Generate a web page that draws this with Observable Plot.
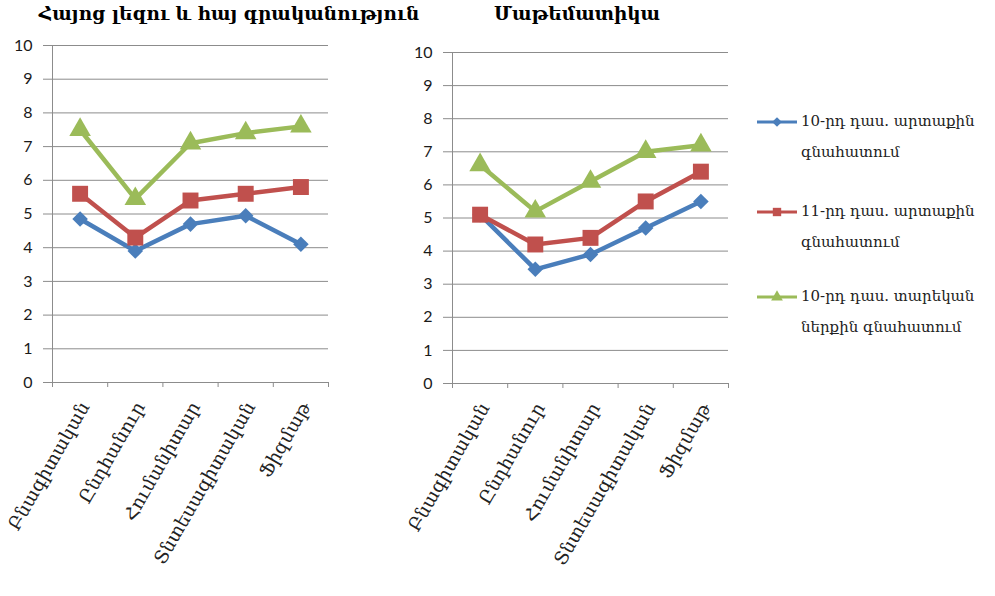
<!DOCTYPE html>
<html>
<head>
<meta charset="utf-8">
<script src="https://cdn.jsdelivr.net/npm/d3@7"></script>
<script src="https://cdn.jsdelivr.net/npm/@observablehq/plot@0.6"></script>
<style>
  body { margin: 0; background: #fff; }
  #wrap { position: relative; width: 995px; height: 596px; overflow: hidden; background: #fff; }
  .panel { position: absolute; top: 0; }
  .title { position: absolute; top: 3px; font-family: "DejaVu Serif", serif; font-weight: bold;
           font-size: 18.5px; white-space: nowrap; transform: translateX(-50%); color: #000; }
  .legend-item { position: absolute; left: 756px; display: flex; align-items: flex-start; }
  .legend-item svg { flex: none; margin-top: 4px; }
  .legend-item span { font-family: "DejaVu Serif", serif; font-size: 15px; line-height: 31px;
                      color: #222; margin-left: 3px; width: 200px; }
</style>
</head>
<body>
<div id="wrap"></div>
<script>
// Track categories (x axis)
const categories = ["Բնագիտական", "Ընդհանուր", "Հումանիտար", "Տնտեսագիտական", "Ֆիզմաթ"];

// Series
const seriesNames = [
  "10-րդ դաս. արտաքին գնահատում",
  "11-րդ դաս. արտաքին գնահատում",
  "10-րդ դաս. տարեկան ներքին գնահատում"
];
const seriesColors = ["#4a7ebb", "#c0504d", "#9bbb59"];
const seriesSymbols = ["diamond2", "square", "triangle"];
const seriesRadius = [7, 9, 8];

// Armenian language and literature
const armenianTitle = "Հայոց լեզու և հայ գրականություն";
const armenianExt10 = [4.85, 3.9, 4.7, 4.95, 4.1];
const armenianExt11 = [5.6, 4.3, 5.4, 5.6, 5.8];
const armenianInt10 = [7.5, 5.45, 7.1, 7.4, 7.6];

// Mathematics
const mathTitle = "Մաթեմատիկա";
const mathExt10 = [5.1, 3.45, 3.9, 4.7, 5.5];
const mathExt11 = [5.1, 4.2, 4.4, 5.5, 6.4];
const mathInt10 = [6.6, 5.2, 6.1, 7.0, 7.2];

const yTicks = [0, 1, 2, 3, 4, 5, 6, 7, 8, 9, 10];

const gridColor = "#8c8c8c";
const labelFont = "Lato, 'Open Sans', sans-serif";
const armFont = "'DejaVu Serif', serif";

function rowsFor(seriesValues) {
  const rows = [];
  seriesValues.forEach((vals, s) => {
    vals.forEach((v, i) => rows.push({series: seriesNames[s], i, value: v}));
  });
  return rows;
}

function panel(seriesValues, marginTop, marginBottom) {
  const rows = rowsFor(seriesValues);
  const centers = categories.map((_, i) => i);
  const bounds = d3.range(categories.length + 1).map(i => i - 0.5);
  return Plot.plot({
    width: 340,
    height: 596,
    marginLeft: 52,
    marginRight: 12,
    marginTop,
    marginBottom,
    x: {type: "linear", domain: [-0.5, categories.length - 0.5]},
    y: {domain: [0, 10]},
    color: {domain: seriesNames, range: seriesColors},
    symbol: {domain: seriesNames, range: seriesSymbols},
    style: {background: "transparent", overflow: "visible"},
    marks: [
      Plot.gridY(yTicks, {stroke: gridColor, strokeOpacity: 1, strokeWidth: 1}),
      Plot.axisY(yTicks, {tickSize: 9, tickPadding: 11, stroke: gridColor, label: null,
                          fontSize: 16, fontFamily: labelFont, fill: "#1a1a1a"}),
      Plot.ruleX([-0.5], {stroke: gridColor}),
      Plot.ruleY([0], {stroke: gridColor}),
      Plot.axisX(bounds, {tickSize: 5, stroke: gridColor, tickFormat: () => "", label: null}),
      Plot.axisX(centers, {tickSize: 0, tickPadding: 21, tickRotate: -60, label: null,
                           tickFormat: i => categories[i], fontSize: 18.5, fontFamily: armFont,
                           fill: "#222", dx: 5}),
      Plot.line(rows, {x: "i", y: "value", z: "series", stroke: "series", strokeWidth: 4.5}),
      ...seriesNames.map((name, s) =>
        Plot.dot(rows.filter(d => d.series === name),
                 {x: "i", y: "value", symbol: "series", fill: "series", r: seriesRadius[s], stroke: "none"}))
    ]
  });
}

const wrap = document.getElementById("wrap");

function addPanel(left, title, titleCenter, values, mt, mb) {
  const div = document.createElement("div");
  div.className = "panel";
  div.style.left = left + "px";
  div.appendChild(panel(values, mt, mb));
  wrap.appendChild(div);
  const t = document.createElement("div");
  t.className = "title";
  t.style.left = titleCenter + "px";
  t.textContent = title;
  wrap.appendChild(t);
}

addPanel(0, armenianTitle, 229, [armenianExt10, armenianExt11, armenianInt10], 45, 214);
addPanel(400, mathTitle, 577, [mathExt10, mathExt11, mathInt10], 52, 213);

// Legend
const legendTops = [106, 196, 281];
seriesNames.forEach((name, s) => {
  const item = document.createElement("div");
  item.className = "legend-item";
  item.style.top = legendTops[s] + "px";
  const svg = d3.create("svg").attr("width", 42).attr("height", 24);
  svg.append("line").attr("x1", 1).attr("x2", 41).attr("y1", 12).attr("y2", 12)
    .attr("stroke", seriesColors[s]).attr("stroke-width", 3);
  const symType = [d3.symbolDiamond2, d3.symbolSquare, d3.symbolTriangle][s];
  svg.append("path").attr("transform", "translate(21,12)")
    .attr("d", d3.symbol(symType, [60, 70, 60][s])())
    .attr("fill", seriesColors[s]);
  item.appendChild(svg.node());
  const span = document.createElement("span");
  span.textContent = name;
  item.appendChild(span);
  wrap.appendChild(item);
});
</script>
</body>
</html>
